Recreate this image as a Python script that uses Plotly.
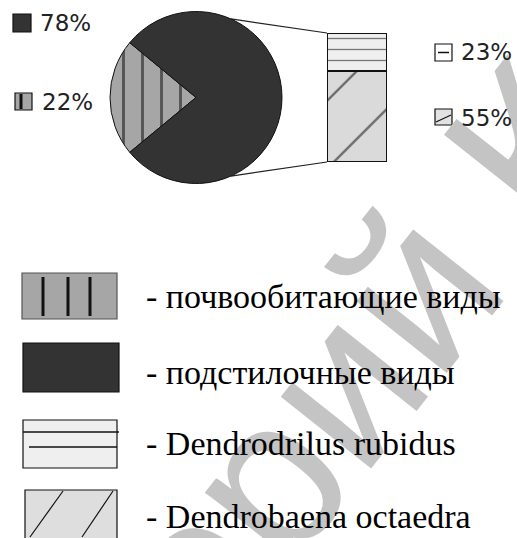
import math
import plotly.graph_objects as go

W, H = 517, 538

# ---- data ----
pie_labels = ["почвообитающие виды", "подстилочные виды"]
pie_values = [22, 78]
bar_labels = ["Dendrobaena octaedra", "Dendrodrilus rubidus"]
bar_values = [55, 23]
legend_labels = ["- почвообитающие виды", "- подстилочные виды",
                 "- Dendrodrilus rubidus", "- Dendrobaena octaedra"]
watermark = "Репозиторий К"


def X(px):
    return px / W


def Y(py):
    return 1 - py / H


# pie geometry (pixels)
pie_cx, pie_cy, pie_r = 196, 97.5, 86
bar_x0, bar_x1, bar_top, bar_bot = 327, 387, 33, 162

fig = go.Figure()

# rotation so the small slice is centred on the left (9 o'clock)
half = pie_values[0] / sum(pie_values) * 360 / 2
fig.add_trace(go.Pie(
    labels=pie_labels, values=pie_values, sort=False, direction="clockwise",
    rotation=270 - half,
    domain=dict(x=[X(pie_cx - pie_r), X(pie_cx + pie_r)],
                y=[Y(pie_cy + pie_r), Y(pie_cy - pie_r)]),
    marker=dict(colors=["#a6a6a6", "#333333"],
                line=dict(color="#111111", width=1),
                pattern=dict(shape=["|", ""], size=19, solidity=0.15,
                             fgcolor="#000000", fillmode="overlay")),
    textinfo="none", hoverinfo="label+percent", showlegend=False,
))

bar_colors = ["#dadada", "#efefef"]
bar_shapes = ["/", "-"]
bar_sizes = [48, 11]
bar_sol = [0.05, 0.12]
for lab, val, col, shp, sz, so in zip(bar_labels, bar_values, bar_colors,
                                       bar_shapes, bar_sizes, bar_sol):
    fig.add_trace(go.Bar(
        x=[0], y=[val], name=lab, width=1, xaxis="x", yaxis="y",
        marker=dict(color=col, line=dict(color="#111111", width=1.3),
                    pattern=dict(shape=shp, size=sz, solidity=so,
                                 fgcolor="#000000", fillmode="overlay")),
        showlegend=False,
    ))

fig.update_layout(
    width=W, height=H, margin=dict(l=0, r=0, t=0, b=0),
    paper_bgcolor="white", plot_bgcolor="rgba(0,0,0,0)",
    barmode="stack",
    xaxis=dict(domain=[X(bar_x0), X(bar_x1)], range=[-0.5, 0.5], visible=False),
    yaxis=dict(domain=[Y(bar_bot), Y(bar_top)], range=[0, sum(bar_values)],
               visible=False),
)

shapes = []
# connector lines from pie to bar
ang = math.radians(66)
px_top = (pie_cx + pie_r * math.cos(ang), pie_cy - pie_r * math.sin(ang))
px_bot = (pie_cx + pie_r * math.cos(ang), pie_cy + pie_r * math.sin(ang))
for (sx, sy), ty in [(px_top, bar_top), (px_bot, bar_bot)]:
    shapes.append(dict(type="line", xref="paper", yref="paper",
                       x0=X(sx), y0=Y(sy), x1=X(bar_x0), y1=Y(ty),
                       line=dict(color="#222222", width=1.2), layer="below"))


def rect(x0, y0, x1, y1, fill, lc="#111111", lw=1.2):
    shapes.append(dict(type="rect", xref="paper", yref="paper",
                       x0=X(x0), y0=Y(y1), x1=X(x1), y1=Y(y0),
                       fillcolor=fill, line=dict(color=lc, width=lw)))


def line(x0, y0, x1, y1, lw=1.2, col="#111111"):
    shapes.append(dict(type="line", xref="paper", yref="paper",
                       x0=X(x0), y0=Y(y0), x1=X(x1), y1=Y(y1),
                       line=dict(color=col, width=lw)))


# small percent icons
rect(13, 14, 31, 32, "#333333")
rect(15, 93, 32, 110, "#a6a6a6")
line(21, 94, 21, 109, lw=3)
rect(435, 44, 452, 61, "#ffffff")
line(438, 52.5, 449, 52.5, lw=1.5)
rect(435, 109, 452, 125, "#e2e2e2")
line(436, 122, 451, 115, lw=1.2)

# legend boxes
rect(22, 273, 117, 319, "#a6a6a6", lc="#555555")
for lx in [43, 68, 90]:
    line(lx, 277, lx, 316, lw=3)
rect(23, 343, 119, 392, "#333333")
rect(23, 420, 117, 468, "#efefef")
line(23, 432, 119, 432, lw=1.5)
line(29, 447, 117, 447, lw=1.5)
rect(25, 490, 117, 540, "#dedede")
line(30, 537, 63, 491, lw=1.2)
line(82, 537, 113, 491, lw=1.2)

fig.update_layout(shapes=shapes)

ann = []
# watermark (drawn first so the labels sit on top)
ann.append(dict(text=watermark, xref="paper", yref="paper",
                x=X(108), y=Y(678), xanchor="center", yanchor="middle",
                textangle=-51.6, showarrow=False,
                font=dict(family="Liberation Sans", size=218,
                          color="rgb(196,196,196)")))

pct_font = dict(family="DejaVu Sans", size=23, color="#222222")
total_pie = sum(pie_values)
pct_items = [
    (f"{round(pie_values[1] / total_pie * 100)}%", 38, 23),
    (f"{round(pie_values[0] / total_pie * 100)}%", 40, 102),
    (f"{bar_values[1]}%", 459, 52),
    (f"{bar_values[0]}%", 459, 118),
]
for t, x, y in pct_items:
    ann.append(dict(text=t, xref="paper", yref="paper", x=X(x), y=Y(y),
                    xanchor="left", yanchor="middle", showarrow=False,
                    font=pct_font))

leg_font = dict(family="Liberation Serif", size=34, color="#000000")
for t, y in zip(legend_labels, [296, 372, 443, 516]):
    ann.append(dict(text=t, xref="paper", yref="paper", x=X(144), y=Y(y),
                    xanchor="left", yanchor="middle", showarrow=False,
                    font=leg_font))

fig.update_layout(annotations=ann)

fig.write_html("out.html")
